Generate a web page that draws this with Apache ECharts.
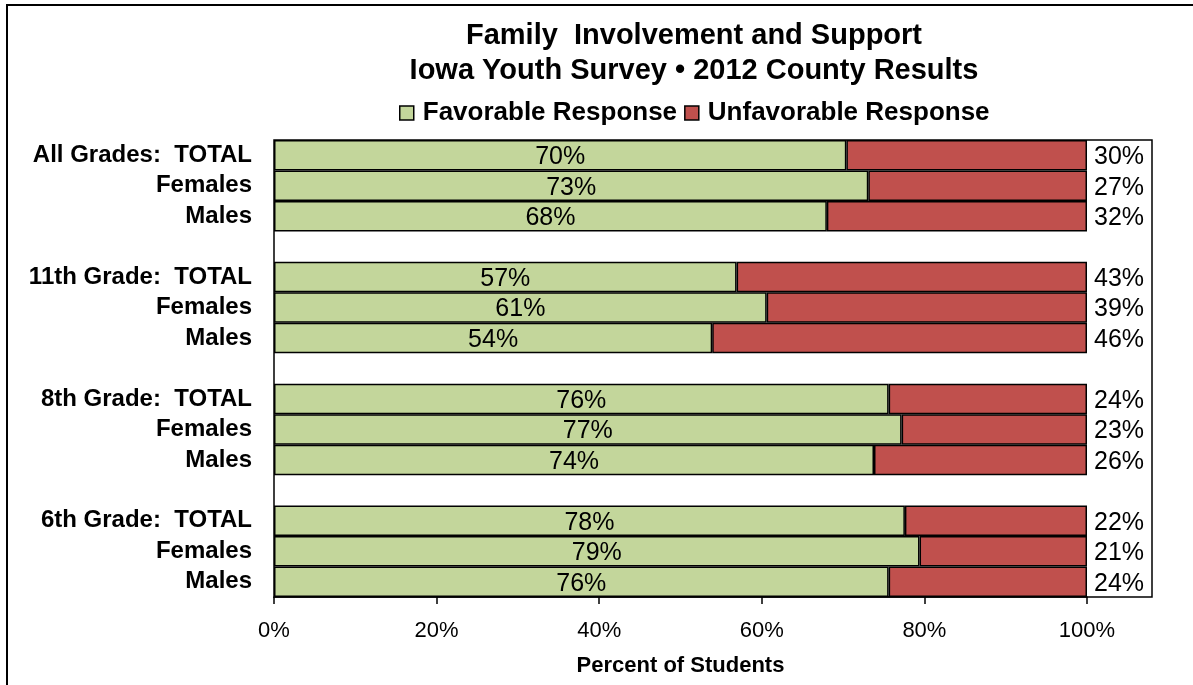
<!DOCTYPE html>
<html>
<head>
<meta charset="utf-8">
<script src="https://cdn.jsdelivr.net/npm/echarts@6/dist/echarts.min.js"></script>
<style>
html,body{margin:0;padding:0;background:#fff;}
#chart{width:1193px;height:685px;}
</style>
</head>
<body>
<div id="chart"></div>
<script>
const categories = [
  'All Grades:  TOTAL', 'Females', 'Males', ' ',
  '11th Grade:  TOTAL', 'Females', 'Males', '  ',
  '8th Grade:  TOTAL', 'Females', 'Males', '   ',
  '6th Grade:  TOTAL', 'Females', 'Males'
];
const favorable   = [70.4, 73.1, 68.0, '-', 56.9, 60.6, 53.9, '-', 75.6, 77.2, 73.8, '-', 77.6, 79.4, 75.6];
const unfavorable = [29.6, 26.9, 32.0, '-', 43.1, 39.4, 46.1, '-', 24.4, 22.8, 26.2, '-', 22.4, 20.6, 24.4];
const xTicks = [0, 20, 40, 60, 80, 100];

const FONT = '"Liberation Sans", Arial, sans-serif';
const chart = echarts.init(document.getElementById('chart'), null, {renderer: 'canvas'});

chart.setOption({
  backgroundColor: '#fff',
  animation: false,
  title: {
    text: 'Family  Involvement and Support\nIowa Youth Survey \u2022 2012 County Results',
    left: 689, top: 13, textAlign: 'center',
    textStyle: {fontFamily: FONT, fontSize: 29, fontWeight: 'bold', color: '#000', lineHeight: 35}
  },
  legend: {
    left: 394, top: 95,
    itemWidth: 14, itemHeight: 14, itemGap: 7,
    icon: 'rect',
    textStyle: {fontFamily: FONT, fontSize: 26, fontWeight: 'bold', color: '#000', padding: [0, 0, 0, 4]},
    itemStyle: {borderColor: '#000', borderWidth: 1.5},
    data: ['Favorable Response', 'Unfavorable Response']
  },
  grid: {left: 274, right: 106, top: 140, bottom: 88, containLabel: false},
  xAxis: {
    type: 'value', min: 0, max: 100, interval: 20,
    axisLine: {show: true, lineStyle: {color: '#000', width: 1.5}},
    axisTick: {show: true, length: 7, lineStyle: {color: '#000', width: 1.5}},
    splitLine: {show: false},
    axisLabel: {
      fontFamily: FONT, fontSize: 22, color: '#000', margin: 23,
      formatter: v => (xTicks.indexOf(v) >= 0 ? v + '%' : '')
    },
    name: 'Percent of Students', nameLocation: 'middle', nameGap: 58,
    nameTextStyle: {fontFamily: FONT, fontSize: 22, fontWeight: 'bold', color: '#000'}
  },
  yAxis: {
    type: 'category', inverse: true, data: categories,
    axisLine: {show: false},
    axisTick: {show: false},
    axisLabel: {interval: 0, hideOverlap: false, fontFamily: FONT, fontSize: 24, fontWeight: 'bold', color: '#000', margin: 22}
  },
  series: [
    {
      name: 'Favorable Response', type: 'bar', stack: 'total',
      barCategoryGap: 0,
      data: favorable,
      itemStyle: {color: '#C3D69B', borderColor: '#000', borderWidth: 1.5},
      label: {
        show: true, position: 'inside', offset: [0, 2],
        fontFamily: FONT, fontSize: 25, color: '#000',
        formatter: p => Math.round(p.value) + '%'
      }
    },
    {
      name: 'Unfavorable Response', type: 'bar', stack: 'total',
      barCategoryGap: 0,
      data: unfavorable,
      itemStyle: {color: '#C0504D', borderColor: '#000', borderWidth: 1.5},
      label: {
        show: true, position: 'right', distance: 7, offset: [0, 2],
        fontFamily: FONT, fontSize: 25, color: '#000',
        formatter: p => Math.round(p.value) + '%'
      }
    }
  ],
  graphic: [
    {type: 'rect', silent: true, z: -1,
     shape: {x: 7, y: 5, width: 1200, height: 700},
     style: {fill: 'none', stroke: '#000', lineWidth: 2}},
    {type: 'rect', silent: true, z: 10,
     shape: {x: 274, y: 140, width: 878, height: 457},
     style: {fill: 'none', stroke: '#000', lineWidth: 1.5}}
  ]
});
</script>
</body>
</html>
